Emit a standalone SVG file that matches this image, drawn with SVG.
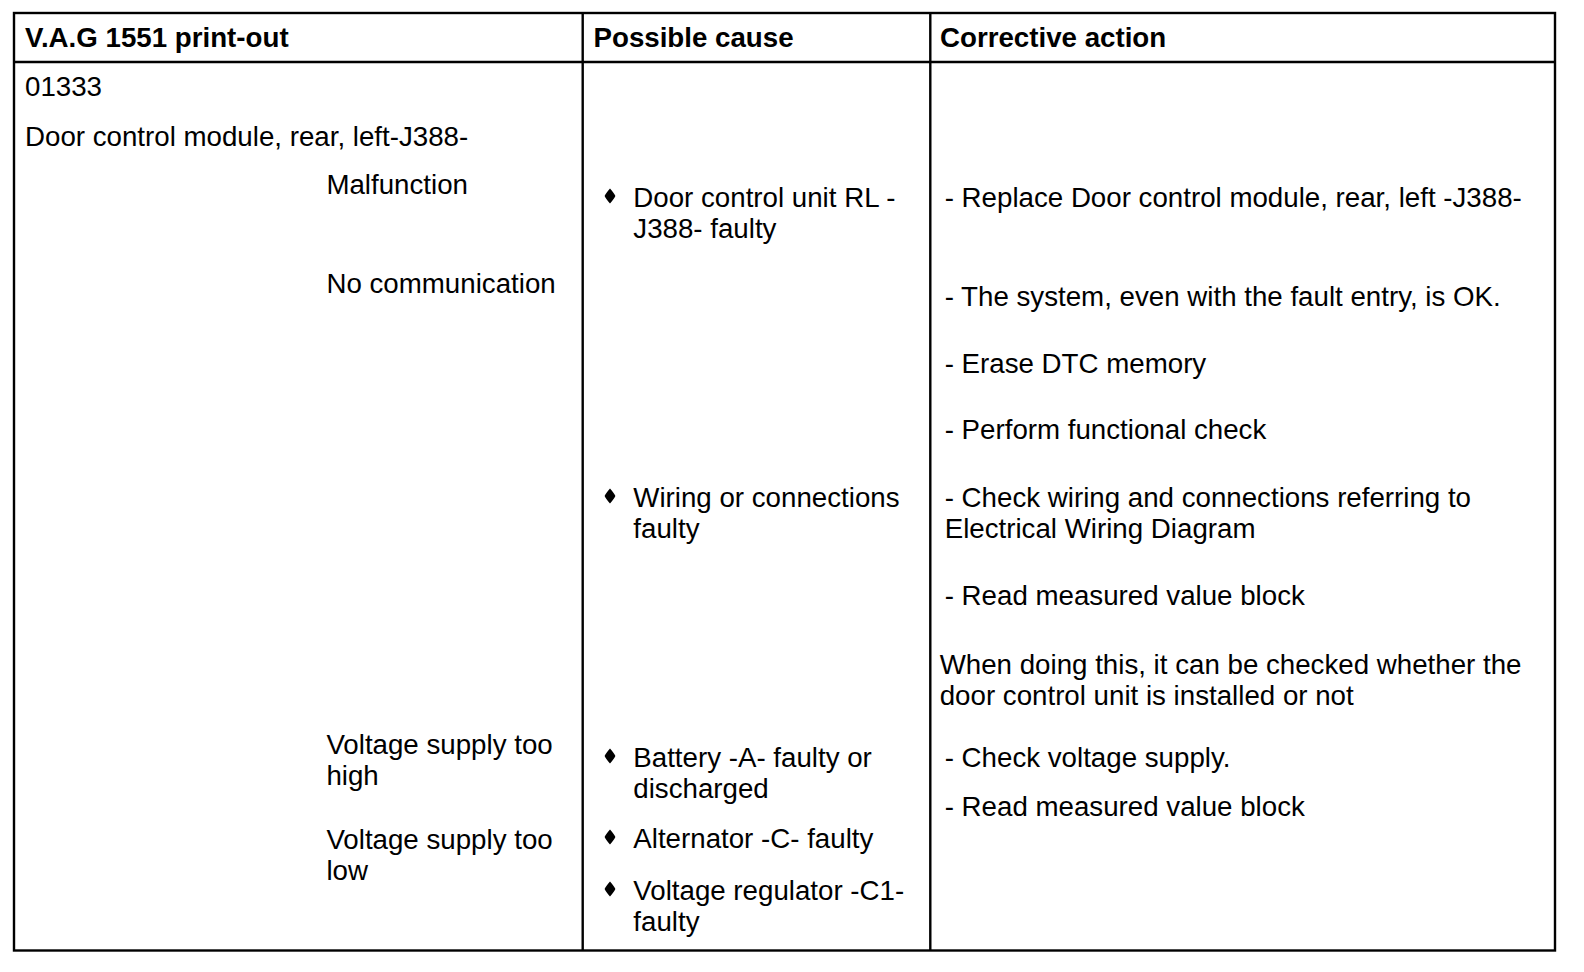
<svg xmlns="http://www.w3.org/2000/svg" width="1584" height="972" viewBox="0 0 1584 972">
<style>
text{font-family:"Liberation Sans",Arial,sans-serif;font-size:27.7px;fill:#000}
.h{font-weight:bold}
.ln{stroke:#000;stroke-width:2.4;fill:none}
</style>
<defs>
<path id="bul" d="M0,-7.5 C2.4,-4.6 4.4,-2.2 5.4,0 C4.4,2.2 2.4,4.6 0,7.5 C-2.4,4.6 -4.4,2.2 -5.4,0 C-4.4,-2.2 -2.4,-4.6 0,-7.5 Z" fill="#000"/>
</defs>
<rect width="1584" height="972" fill="#fff"/>
<g id="grid">
<rect class="ln" x="14" y="13" width="1541" height="937.5"/>
<line class="ln" x1="14" y1="62" x2="1555" y2="62"/>
<line class="ln" x1="582.7" y1="13" x2="582.7" y2="950.5"/>
<line class="ln" x1="930.3" y1="13" x2="930.3" y2="950.5"/>
</g>
<g id="header">
<text class="h" x="25" y="47">V.A.G 1551 print-out</text>
<text class="h" x="593.5" y="47">Possible cause</text>
<text class="h" x="940" y="47">Corrective action</text>
</g>
<g id="col1">
<text x="25" y="96">01333</text>
<text x="25" y="146">Door control module, rear, left-J388-</text>
<text x="326.4" y="194">Malfunction</text>
<text x="326.4" y="293">No communication</text>
<text x="326.4" y="754">Voltage supply too</text>
<text x="326.4" y="785">high</text>
<text x="326.4" y="849">Voltage supply too</text>
<text x="326.4" y="880">low</text>
</g>
<g id="col2">
<use href="#bul" x="610" y="196"/>
<text x="633.3" y="207">Door control unit RL -</text>
<text x="633.3" y="238">J388- faulty</text>
<use href="#bul" x="610" y="496"/>
<text x="633.3" y="507">Wiring or connections</text>
<text x="633.3" y="538">faulty</text>
<use href="#bul" x="610" y="756"/>
<text x="633.3" y="767">Battery -A- faulty or</text>
<text x="633.3" y="798">discharged</text>
<use href="#bul" x="610" y="837"/>
<text x="633.3" y="848">Alternator -C- faulty</text>
<use href="#bul" x="610" y="889"/>
<text x="633.3" y="900">Voltage regulator -C1-</text>
<text x="633.3" y="931">faulty</text>
</g>
<g id="col3">
<text x="944.7" y="207">- Replace Door control module, rear, left -J388-</text>
<text x="944.7" y="306">- The system, even with the fault entry, is OK.</text>
<text x="944.7" y="373">- Erase DTC memory</text>
<text x="944.7" y="439">- Perform functional check</text>
<text x="944.7" y="507">- Check wiring and connections referring to</text>
<text x="944.7" y="538">Electrical Wiring Diagram</text>
<text x="944.7" y="605">- Read measured value block</text>
<text x="939.7" y="674">When doing this, it can be checked whether the</text>
<text x="939.7" y="705">door control unit is installed or not</text>
<text x="944.7" y="767">- Check voltage supply.</text>
<text x="944.7" y="816">- Read measured value block</text>
</g>
</svg>
